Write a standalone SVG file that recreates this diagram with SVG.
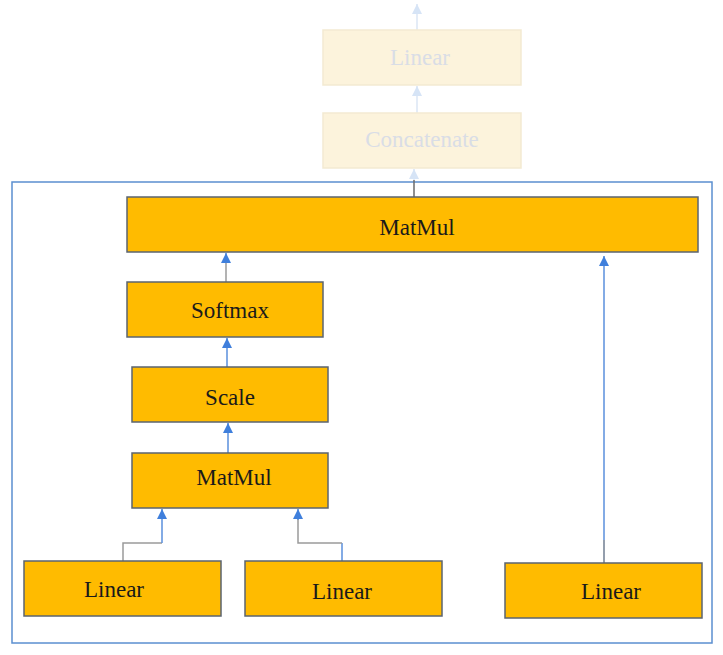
<svg xmlns="http://www.w3.org/2000/svg" width="723" height="655" viewBox="0 0 723 655">
<defs>
<marker id="ah" viewBox="0 0 10 10" refX="10" refY="5" markerWidth="10" markerHeight="10" markerUnits="userSpaceOnUse" orient="auto">
<path d="M0,0 L10,5 L0,10 z" fill="#3f7fdc"/>
</marker>
<marker id="ahf" viewBox="0 0 10 10" refX="10" refY="5" markerWidth="10" markerHeight="10" markerUnits="userSpaceOnUse" orient="auto">
<path d="M0,0 L10,5 L0,10 z" fill="#d6e4f6"/>
</marker>
</defs>
<style>
.box{fill:#FFBB00;stroke:#5b6470;stroke-width:1.5}
.fbox{fill:#FCF3DC;stroke:#F3EAD2;stroke-width:1.5}
.t{font-family:"Liberation Serif","Times New Roman",serif;font-size:23px;fill:#1a1a1a;text-anchor:middle}
.ft{font-family:"Liberation Serif","Times New Roman",serif;font-size:23px;fill:#d9dde6;text-anchor:middle}
.b{fill:none;stroke:#5a8fdc;stroke-width:1.5}
.g{fill:none;stroke:#9a9a9a;stroke-width:1.5}
.fb{fill:none;stroke:#dbe6f5;stroke-width:1.5}
</style>
<rect width="723" height="655" fill="#ffffff"/>
<rect x="12" y="182" width="700" height="461" fill="#ffffff" stroke="#5b8fd0" stroke-width="1.5"/>
<g id="connectors">
<line class="fb" x1="417" y1="30" x2="417" y2="4" marker-end="url(#ahf)"/>
<line class="fb" x1="417" y1="113" x2="417" y2="86" marker-end="url(#ahf)"/>
<line class="fb" x1="414" y1="180" x2="414" y2="169" marker-end="url(#ahf)"/>
<line x1="414" y1="197" x2="414" y2="180" stroke="#6a6a6a" stroke-width="1.5"/>
<line class="g" x1="226" y1="282" x2="226" y2="262"/>
<line class="b" x1="226" y1="263" x2="226" y2="253" marker-end="url(#ah)"/>
<line class="b" x1="227" y1="367" x2="227" y2="338" marker-end="url(#ah)"/>
<line class="b" x1="228" y1="453" x2="228" y2="423" marker-end="url(#ah)"/>
<polyline class="g" points="123,561 123,543 162,543"/>
<line class="b" x1="162" y1="543" x2="162" y2="509" marker-end="url(#ah)"/>
<line class="b" x1="342" y1="561" x2="342" y2="543"/>
<polyline class="g" points="342,543 298,543 298,519"/>
<line class="b" x1="298" y1="520" x2="298" y2="509" marker-end="url(#ah)"/>
<line class="b" x1="604" y1="563" x2="604" y2="256" marker-end="url(#ah)"/>
<line class="g" x1="604" y1="563" x2="604" y2="540"/>
</g>
<g id="linear-top">
<rect class="fbox" x="323" y="30" width="198" height="55"/>
<text class="ft" x="420" y="65">Linear</text>
</g>
<g id="concatenate">
<rect class="fbox" x="323" y="113" width="198" height="55"/>
<text class="ft" x="422" y="147">Concatenate</text>
</g>
<g id="matmul-top">
<rect class="box" x="127" y="197" width="571" height="55"/>
<text class="t" x="417" y="235">MatMul</text>
</g>
<g id="softmax">
<rect class="box" x="127" y="282" width="196" height="55"/>
<text class="t" x="230" y="318">Softmax</text>
</g>
<g id="scale">
<rect class="box" x="132" y="367" width="196" height="55"/>
<text class="t" x="230" y="405">Scale</text>
</g>
<g id="matmul">
<rect class="box" x="132" y="453" width="196" height="55"/>
<text class="t" x="234" y="485">MatMul</text>
</g>
<g id="linear-1">
<rect class="box" x="24" y="561" width="197" height="55"/>
<text class="t" x="114" y="597">Linear</text>
</g>
<g id="linear-2">
<rect class="box" x="245" y="561" width="197" height="55"/>
<text class="t" x="342" y="599">Linear</text>
</g>
<g id="linear-3">
<rect class="box" x="505" y="563" width="197" height="55"/>
<text class="t" x="611" y="599">Linear</text>
</g>
</svg>
